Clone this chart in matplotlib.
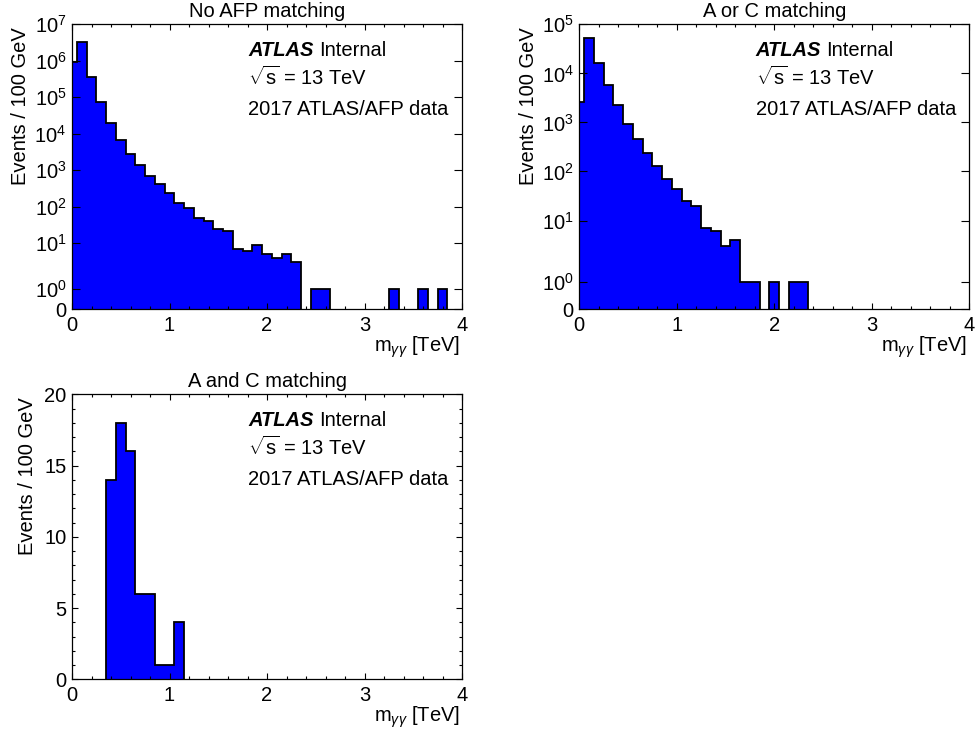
import numpy as np
import matplotlib
matplotlib.use('Agg')
import matplotlib.pyplot as plt
from matplotlib.ticker import MultipleLocator, NullLocator, FixedLocator

plt.rcParams['font.family'] = ['Liberation Sans', 'DejaVu Sans']
plt.rcParams['mathtext.fontset'] = 'custom'
plt.rcParams['mathtext.rm'] = 'Liberation Sans'
plt.rcParams['mathtext.it'] = 'Liberation Sans:italic'
plt.rcParams['mathtext.bf'] = 'Liberation Sans:bold'

# ---- data (events per 100 GeV bin, bins centred on 0.0 ... 3.9 TeV) ----
bin_centers = [0.0, 0.1, 0.2, 0.3, 0.4, 0.5, 0.6, 0.7, 0.8, 0.9,
               1.0, 1.1, 1.2, 1.3, 1.4, 1.5, 1.6, 1.7, 1.8, 1.9,
               2.0, 2.1, 2.2, 2.3, 2.4, 2.5, 2.6, 2.7, 2.8, 2.9,
               3.0, 3.1, 3.2, 3.3, 3.4, 3.5, 3.6, 3.7, 3.8, 3.9]
bin_width = 0.1

no_afp = [9.5e5, 3.2e6, 3.7e5, 7.5e4, 2.0e4, 6.9e3, 2.8e3, 1.36e3, 700, 430,
          233, 130, 91, 48, 41, 25, 21, 7, 6, 9,
          5, 4, 5, 3, 0, 1, 1, 0, 0, 0,
          0, 0, 0, 1, 0, 0, 1, 0, 1, 0]

a_or_c = [2560, 5.3e4, 1.64e4, 5800, 2300, 935, 450, 233, 128, 71,
          44, 25, 20, 7, 6, 3, 4, 1, 1, 0,
          1, 0, 1, 1, 0, 0, 0, 0, 0, 0,
          0, 0, 0, 0, 0, 0, 0, 0, 0, 0]

a_and_c = [0, 0, 0, 0, 14, 18, 16, 6, 6, 1,
           1, 4, 0, 0, 0, 0, 0, 0, 0, 0,
           0, 0, 0, 0, 0, 0, 0, 0, 0, 0,
           0, 0, 0, 0, 0, 0, 0, 0, 0, 0]

titles = ["No AFP matching", "A or C matching", "A and C matching"]
log_tick_values = [0, 1, 10, 100, 1e3, 1e4, 1e5, 1e6, 1e7]
log_tick_labels = ["0", "$10^{0}$", "$10^{1}$", "$10^{2}$", "$10^{3}$",
                   "$10^{4}$", "$10^{5}$", "$10^{6}$", "$10^{7}$"]

edges = np.round(np.array(bin_centers + [bin_centers[-1] + bin_width]) - bin_width / 2, 3)

W, H = 975, 735
fig = plt.figure(figsize=(W / 100, H / 100), dpi=100)

def add_axes(x0, y_top, w=390, h=285):
    return fig.add_axes([x0 / W, 1 - (y_top + h) / H, w / W, h / H])

ax1 = add_axes(72, 24.3)
ax2 = add_axes(579.3, 24.3)
ax3 = add_axes(72, 394.3)

FS = 14.5

def draw_hist(ax, values):
    vals = np.asarray(values, dtype=float)
    ax.stairs(vals, edges, fill=True, color='#0000ff', baseline=0, lw=0)
    # outline only around runs of non-empty bins
    nz = vals > 0
    i = 0
    n = len(vals)
    while i < n:
        if nz[i]:
            j = i
            while j < n and nz[j]:
                j += 1
            ax.stairs(vals[i:j], edges[i:j + 1], fill=False, color='black',
                      lw=1.3, baseline=0)
            i = j
        else:
            i += 1

def style(ax, values, title, log, ymax, ylab_x):
    draw_hist(ax, values)
    ax.set_xlim(0, 4)
    if log:
        ax.set_yscale('symlog', linthresh=2, linscale=1)
        ax.set_ylim(0, ymax)
        ticks = [t for t in log_tick_values if t <= ymax]
        labels = log_tick_labels[:len(ticks)]
        ax.set_yticks(ticks)
        ax.set_yticklabels(labels)
        ax.yaxis.set_minor_locator(NullLocator())
        ax.tick_params(axis='y', which='major', length=5.5)
    else:
        ax.set_ylim(0, ymax)
        ax.yaxis.set_major_locator(MultipleLocator(5))
        ax.yaxis.set_minor_locator(MultipleLocator(1))
        ax.tick_params(axis='y', which='major', length=4.5)
        ax.tick_params(axis='y', which='minor', length=2.5)
    ax.xaxis.set_major_locator(MultipleLocator(1))
    ax.xaxis.set_minor_locator(MultipleLocator(0.2))
    ax.tick_params(axis='x', which='major', length=4.2)
    ax.tick_params(axis='x', which='minor', length=2.4)
    ax.tick_params(which='both', direction='in', top=True, right=True,
                   labelsize=FS, width=0.8)
    ax.tick_params(axis='x', pad=5)
    ax.tick_params(axis='y', pad=4)
    for sp in ax.spines.values():
        sp.set_linewidth(0.9)
        sp.set_zorder(3)
    ax.set_title(title, fontsize=FS, pad=5.5)
    ax.text(ylab_x, 0.99, "Events / 100 GeV", rotation=90, ha='center', va='top',
            fontsize=FS, transform=ax.transAxes)
    ax.text(0.995, -0.132, r"$\mathrm{m}_{\gamma\gamma}$ [TeV]", ha='right', va='center',
            fontsize=FS, transform=ax.transAxes)
    ax.text(0.452, 0.889, "ATLAS", fontsize=FS, fontweight='bold', fontstyle='italic',
            ha='left', va='baseline', transform=ax.transAxes)
    ax.text(0.634, 0.889, "Internal", fontsize=FS, ha='left', va='baseline',
            transform=ax.transAxes)
    ax.text(0.452, 0.787, r"$\sqrt{\mathrm{s}}$ = 13 TeV", fontsize=FS, ha='left',
            va='baseline', transform=ax.transAxes)
    ax.text(0.452, 0.682, "2017 ATLAS/AFP data", fontsize=FS, ha='left',
            va='baseline', transform=ax.transAxes)

style(ax1, no_afp, titles[0], True, 1e7, -0.133)
style(ax2, a_or_c, titles[1], True, 1e5, -0.1315)
style(ax3, a_and_c, titles[2], False, 20, -0.113)

fig.savefig("out.png", dpi=100)
